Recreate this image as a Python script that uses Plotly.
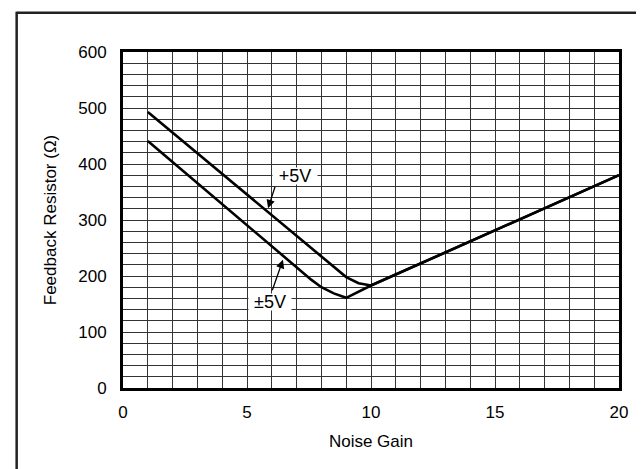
import plotly.graph_objects as go

# noise gain vs feedback resistor
gain_5v = [1, 8.5, 9.0, 9.5, 10, 20]
rf_5v = [493, 215, 198, 187, 183, 380]

gain_pm5v = [1, 7.6, 8.0, 8.5, 9.0, 10, 20]
rf_pm5v = [441, 193, 180, 169, 161, 183, 380]

x_ticks = [0, 5, 10, 15, 20]
y_ticks = [0, 100, 200, 300, 400, 500, 600]

FONT = "Liberation Sans, Arial, sans-serif"
GRID = "#333333"

fig = go.Figure()
fig.add_trace(go.Scatter(x=gain_pm5v, y=rf_pm5v, mode="lines",
                         line=dict(color="black", width=2.6),
                         name="±5V", showlegend=False))
fig.add_trace(go.Scatter(x=gain_5v, y=rf_5v, mode="lines",
                         line=dict(color="black", width=2.6),
                         name="+5V", showlegend=False))

# labels with white boxes and arrows pointing at the curves
fig.add_annotation(x=5.85, y=321, ax=6.15, ay=362, axref="x", ayref="y",
                   showarrow=True, arrowhead=2, arrowsize=1.3, arrowwidth=1.3,
                   arrowcolor="black", text="")
fig.add_annotation(x=6.94, y=378, text="+5V", showarrow=False,
                   bgcolor="white", width=44, height=16, borderpad=0,
                   font=dict(size=18, color="black"))
fig.add_annotation(x=6.45, y=229, ax=6.0, ay=172, axref="x", ayref="y",
                   showarrow=True, arrowhead=2, arrowsize=1.3, arrowwidth=1.3,
                   arrowcolor="black", text="")
fig.add_annotation(x=5.92, y=153, text="±5V", showarrow=False,
                   bgcolor="white", width=42, height=16, borderpad=0,
                   font=dict(size=18, color="black"))

# outer frame of the figure
fig.add_shape(type="line", xref="paper", yref="paper",
              x0=-0.2144, x1=-0.2144, y0=-0.4, y1=1.12,
              line=dict(color="#222", width=2.5))
fig.add_shape(type="line", xref="paper", yref="paper",
              x0=-0.2144, x1=1.2, y0=1.117, y1=1.117,
              line=dict(color="#222", width=2.5))

fig.update_xaxes(range=[0, 20], tickvals=x_ticks, ticks="outside",
                 ticklen=7, tickcolor="rgba(0,0,0,0)",
                 showgrid=True, gridcolor=GRID, gridwidth=1,
                 minor=dict(dtick=1, showgrid=True, gridcolor=GRID, gridwidth=1),
                 showline=True, linecolor="black", linewidth=3, mirror=True,
                 zeroline=False,
                 title=dict(text="Noise Gain", standoff=14,
                            font=dict(size=17, color="black")),
                 tickfont=dict(size=17, color="black"))
fig.update_yaxes(range=[0, 600], tickvals=y_ticks, ticks="outside",
                 ticklen=10, tickcolor="rgba(0,0,0,0)",
                 showgrid=True, gridcolor=GRID, gridwidth=1,
                 minor=dict(dtick=20, showgrid=True, gridcolor=GRID, gridwidth=1),
                 showline=True, linecolor="black", linewidth=3, mirror=True,
                 zeroline=False,
                 title=dict(text="Feedback Resistor (Ω)", standoff=18,
                            font=dict(size=17, color="black")),
                 tickfont=dict(size=17, color="black"))

fig.update_layout(width=644, height=469,
                  margin=dict(l=115, r=33, t=44, b=89),
                  plot_bgcolor="white", paper_bgcolor="white",
                  font=dict(family=FONT, color="black"))

fig.write_html("out.html")
